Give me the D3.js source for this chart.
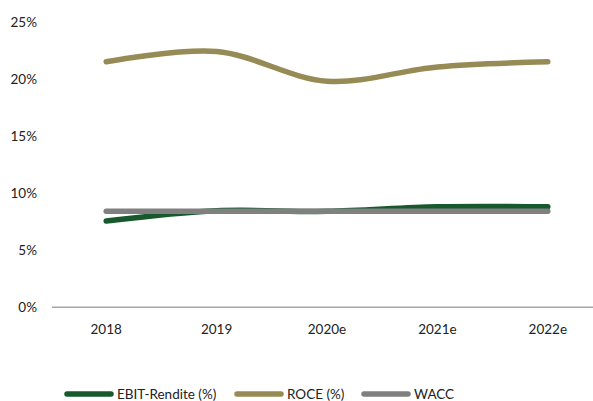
<!DOCTYPE html>
<html>
<head>
<meta charset="utf-8">
<script src="https://cdn.jsdelivr.net/npm/d3@7"></script>
<style>
  body { margin: 0; background: #fff; }
  text { font-family: Lato, "Open Sans", sans-serif; fill: #222; }
</style>
</head>
<body>
<script>
// data
var years = ["2018", "2019", "2020e", "2021e", "2022e"];
var ebit = [7.55, 8.45, 8.4, 8.8, 8.8];
var roce = [21.5, 22.4, 19.8, 21.05, 21.5];
var wacc = [8.4, 8.4, 8.4, 8.4, 8.4];
var yTicks = [0, 5, 10, 15, 20, 25];

var seriesNames = ["EBIT-Rendite (%)", "ROCE (%)", "WACC"];
var seriesColors = ["#17582c", "#978b55", "#808080"];

var width = 593, height = 401;

var svg = d3.select("body").append("svg")
  .attr("width", width)
  .attr("height", height);

var x = d3.scalePoint().domain(years).range([51, 603]).padding(0.5);
var y = d3.scaleLinear().domain([0, 25]).range([307.3, 21.8]);

// y tick labels (no axis line)
svg.append("g").selectAll("text")
  .data(yTicks)
  .enter().append("text")
  .attr("x", 37)
  .attr("y", function(d){ return y(d); })
  .attr("dy", "0.35em")
  .attr("text-anchor", "end")
  .style("font-size", "13.5px")
  .text(function(d){ return d + "%"; });

// x axis line
svg.append("path")
  .attr("d", `M52 ${y(0)} L ${width} ${y(0)}`)
  .style("stroke", "#a6a6a6")
  .style("stroke-width", 1.5);

svg.append("g").selectAll("text")
  .data(years)
  .enter().append("text")
  .attr("x", function(d){ return x(d); })
  .attr("y", 329)
  .attr("dy", "0.35em")
  .attr("text-anchor", "middle")
  .style("font-size", "13.5px")
  .text(function(d){ return d; });

var line = d3.line()
  .x(function(d, i){ return x(years[i]); })
  .y(function(d){ return y(d); })
  .curve(d3.curveCatmullRom.alpha(0.5));

var allSeries = [ebit, roce, wacc];
// draw order: ROCE, EBIT, WACC on top
[1, 0, 2].forEach(function(k){
  svg.append("path")
    .attr("d", line(allSeries[k]))
    .style("fill", "none")
    .style("stroke", seriesColors[k])
    .style("stroke-width", 5.5)
    .style("stroke-linecap", "round");
});

// legend
var legendX = [65, 235, 362];
var legend = svg.append("g");
seriesNames.forEach(function(name, k){
  legend.append("path")
    .attr("d", `M${legendX[k] + 2} 394 L ${legendX[k] + 46} 394`)
    .style("stroke", seriesColors[k])
    .style("stroke-width", 5.5)
    .style("stroke-linecap", "round");
  legend.append("text")
    .attr("x", legendX[k] + 52)
    .attr("y", 394)
    .attr("dy", "0.35em")
    .style("font-size", "13.5px")
    .text(name);
});
</script>
</body>
</html>
